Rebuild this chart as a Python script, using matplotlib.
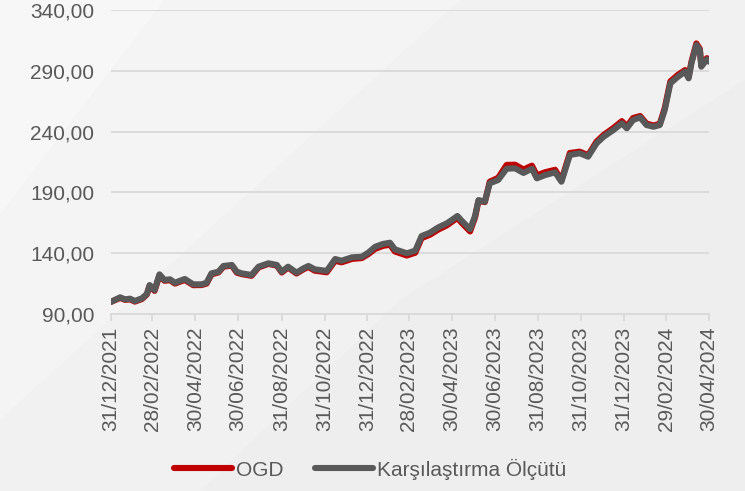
import numpy as np
import pandas as pd
import matplotlib.pyplot as plt
import matplotlib.dates as mdates
from matplotlib.patches import Polygon

plt.rcParams['font.family'] = ['Liberation Sans', 'DejaVu Sans']

# Okunan veri noktaları (grafikten tahmini)
dates = pd.to_datetime([
    '2021-12-31', '2022-01-13', '2022-01-20', '2022-01-27', '2022-02-03', '2022-02-13',
    '2022-02-20', '2022-02-24', '2022-03-03', '2022-03-10', '2022-03-17', '2022-03-25',
    '2022-04-01', '2022-04-15', '2022-04-27', '2022-05-09', '2022-05-16', '2022-05-23',
    '2022-06-02', '2022-06-09', '2022-06-21', '2022-06-28', '2022-07-05', '2022-07-19',
    '2022-07-29', '2022-08-12', '2022-08-24', '2022-08-31', '2022-09-09', '2022-09-21',
    '2022-10-01', '2022-10-08', '2022-10-17', '2022-10-24', '2022-11-03', '2022-11-15',
    '2022-11-24', '2022-12-09', '2022-12-23', '2023-01-01', '2023-01-11', '2023-01-22',
    '2023-02-01', '2023-02-08', '2023-02-25', '2023-03-09', '2023-03-18', '2023-03-30',
    '2023-04-11', '2023-04-23', '2023-04-30', '2023-05-08', '2023-05-14', '2023-05-26',
    '2023-06-02', '2023-06-07', '2023-06-16', '2023-06-23', '2023-07-05', '2023-07-17',
    '2023-07-29', '2023-08-10', '2023-08-22', '2023-08-29', '2023-09-10', '2023-09-24',
    '2023-10-03', '2023-10-15', '2023-10-29', '2023-11-10', '2023-11-22', '2023-12-02',
    '2023-12-16', '2023-12-28', '2024-01-04', '2024-01-13', '2024-01-23', '2024-02-01',
    '2024-02-11', '2024-02-20', '2024-02-27', '2024-03-06', '2024-03-17', '2024-03-27',
    '2024-04-01', '2024-04-05', '2024-04-12', '2024-04-17', '2024-04-19', '2024-04-27',
    '2024-04-30',
])

benchmark = [
    100.0, 103.7, 102.0, 102.6, 100.7, 102.9,
    106.4, 113.8, 109.7, 122.6, 118.0, 118.5,
    115.7, 118.8, 114.4, 114.4, 115.7, 123.4,
    124.8, 129.5, 130.3, 124.8, 123.4, 122.1,
    128.9, 131.7, 130.3, 124.8, 128.9, 124.0,
    127.6, 129.5, 126.7, 126.2, 125.4, 135.2,
    133.8, 136.6, 137.1, 140.4, 145.3, 147.6,
    148.6, 143.2, 139.9, 142.1, 154.1, 156.9,
    161.3, 164.6, 167.3, 170.6, 166.7, 159.7,
    170.5, 183.7, 182.4, 197.5, 200.2, 209.5,
    209.8, 206.0, 209.5, 201.6, 204.3, 206.5,
    198.8, 220.8, 222.2, 219.4, 230.4, 235.8,
    241.3, 246.8, 242.7, 249.5, 251.7, 245.4,
    244.0, 245.4, 257.8, 279.7, 285.2, 289.3,
    283.8, 296.2, 311.2, 307.1, 293.4, 299.4,
    297.5,
]

ogd = [
    100.0, 103.2, 101.6, 102.0, 100.2, 102.3,
    106.0, 113.2, 109.0, 121.8, 117.3, 117.8,
    115.0, 118.0, 113.7, 113.8, 115.0, 122.6,
    124.2, 128.9, 129.8, 124.0, 122.8, 121.4,
    128.3, 131.2, 129.8, 124.1, 128.2, 123.3,
    126.8, 128.6, 125.6, 125.1, 124.3, 133.8,
    132.5, 135.3, 136.0, 139.2, 143.6, 146.0,
    147.0, 141.4, 138.1, 140.4, 152.4, 155.2,
    159.5, 162.9, 165.8, 169.0, 165.0, 157.9,
    169.2, 183.0, 182.0, 198.8, 202.0, 212.6,
    212.8, 208.8, 212.0, 204.0, 206.6, 208.6,
    200.0, 222.4, 223.5, 220.6, 231.8, 237.2,
    243.0, 248.6, 244.2, 251.2, 252.8, 246.6,
    245.0, 246.4, 259.4, 281.3, 286.8, 290.6,
    285.0, 297.4, 312.5, 308.0, 294.5, 300.4,
    298.5,
]

tick_dates = pd.to_datetime([
    '2021-12-31', '2022-02-28', '2022-04-30', '2022-06-30', '2022-08-31',
    '2022-10-31', '2022-12-31', '2023-02-28', '2023-04-30', '2023-06-30',
    '2023-08-31', '2023-10-31', '2023-12-31', '2024-02-29', '2024-04-30',
])
y_ticks = [90, 140, 190, 240, 290, 340]

text_color = '#595959'
grid_color = '#d9d9d9'

fig = plt.figure(figsize=(7.45, 4.91), dpi=100)
fig.patch.set_facecolor('#f1f1f2')

# arka plandaki açık renkli çapraz şeritler
bg = fig.add_axes([0, 0, 1, 1], zorder=-10)
bg.set_xlim(0, 745)
bg.set_ylim(491, 0)
bg.axis('off')
bg.add_patch(Polygon([[0, 0], [165, 0], [0, 215]], closed=True, color='#f7f7f8', lw=0))
bg.add_patch(Polygon([[165, 0], [460, 0], [0, 420], [0, 215]], closed=True, color='#f4f4f5', lw=0))
bg.add_patch(Polygon([[400, 300], [745, 80], [745, 491], [200, 491]], closed=True, color='#eeeeef', lw=0))

ax = fig.add_axes([111 / 745, 1 - 314 / 491, (709 - 111) / 745, (314 - 10) / 491])
ax.set_facecolor('none')

ax.plot(dates, ogd, color='#c00000', lw=4.4, solid_capstyle='round',
        solid_joinstyle='round', label='OGD', zorder=3)
ax.plot(dates, benchmark, color='#595959', lw=4.4, solid_capstyle='round',
        solid_joinstyle='round', label='Karşılaştırma Ölçütü', zorder=4)

ax.set_xlim(tick_dates[0], tick_dates[-1])
ax.set_ylim(90, 340)
ax.set_yticks(y_ticks)
ax.set_yticklabels([f'{v:.2f}'.replace('.', ',') for v in y_ticks])
ax.set_xticks(tick_dates)
ax.set_xticklabels([d.strftime('%d/%m/%Y') for d in tick_dates], rotation=90)

ax.grid(axis='y', color=grid_color, lw=1.3)
ax.set_axisbelow(True)
for s in ['top', 'right', 'left']:
    ax.spines[s].set_visible(False)
ax.spines['bottom'].set_color(grid_color)
ax.spines['bottom'].set_linewidth(1.3)
ax.tick_params(axis='y', length=0, pad=12, labelsize=15, labelcolor=text_color)
ax.tick_params(axis='x', length=5, width=1.3, color=grid_color, pad=4,
               labelsize=15, labelcolor=text_color)

handles, labels = ax.get_legend_handles_labels()
fig.legend(handles, labels, loc='center', bbox_to_anchor=(370 / 745, 1 - 469 / 491),
           ncol=2, frameon=False, fontsize=15, labelcolor=text_color,
           handlelength=2.8, handletextpad=0.2, columnspacing=1.5)

fig.savefig('out.png', dpi=100)
